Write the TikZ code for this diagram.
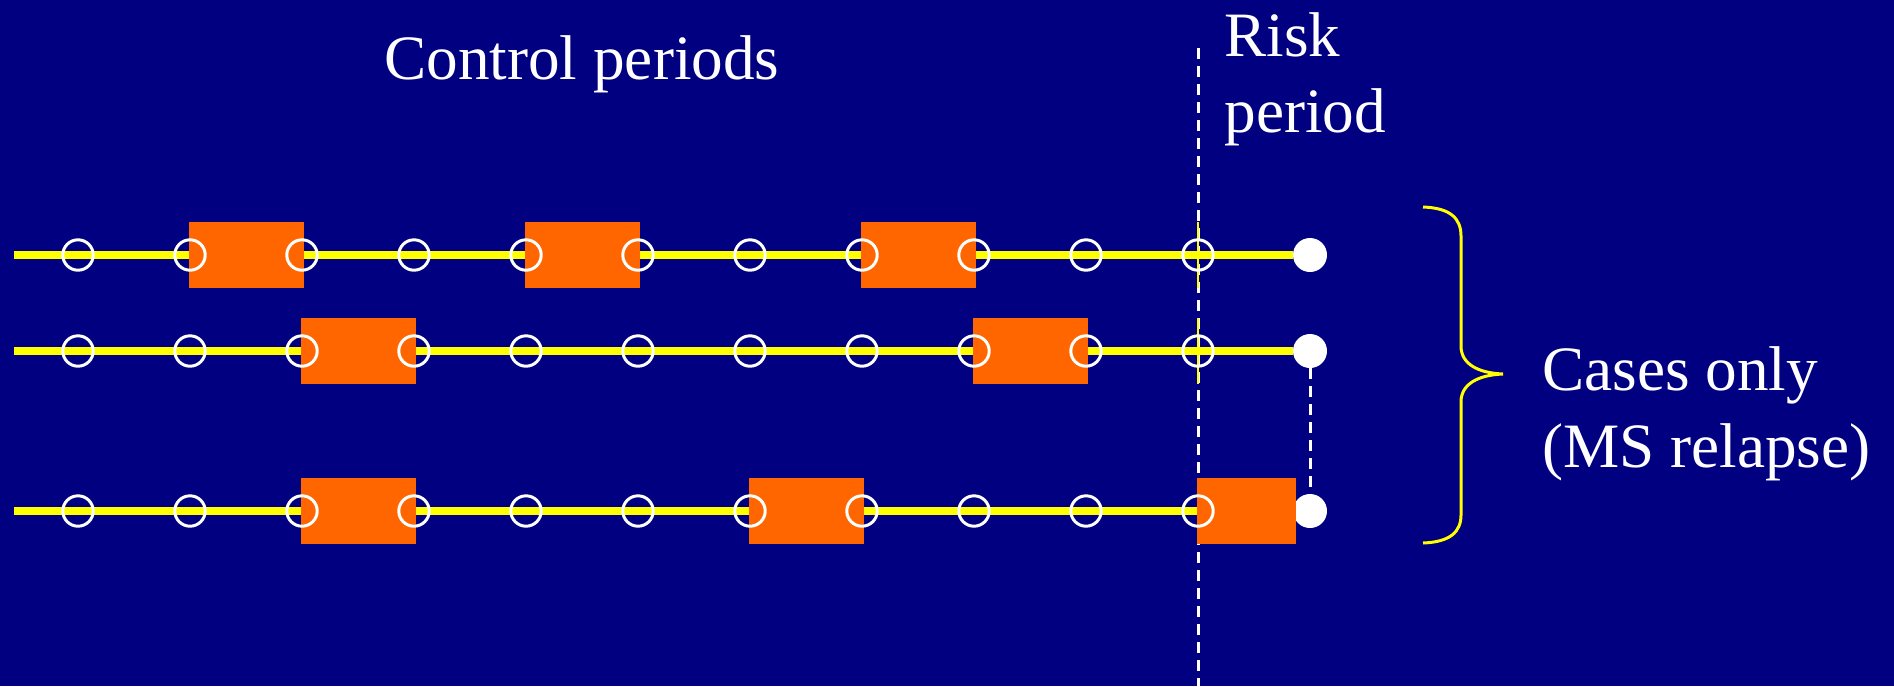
\documentclass[tikz,border=0pt]{standalone}
\usepackage{fontspec}
\setmainfont{Liberation Serif}
\definecolor{bg}{HTML}{000080}
\definecolor{orng}{HTML}{FF6600}
\definecolor{yl}{HTML}{FFFF00}
\begin{document}
\begin{tikzpicture}[x=0.5pt,y=-0.5pt,
 hc/.style={circle,draw=white,line width=1.5pt,minimum size=15.2pt,inner sep=0pt},
 fc/.style={circle,fill=white,minimum size=17pt,inner sep=0pt},
 pbox/.style={rectangle,fill=orng,minimum width=57.5pt,minimum height=33pt,inner sep=0pt},
 yline/.style={draw=yl,line width=4pt},
 ytick/.style={draw=yl,line width=1pt},
 wdash/.style={draw=white,line width=1.5pt,dash pattern=on 5.5pt off 3.5pt},
 ybrace/.style={draw=yl,line width=1.5pt},
 lbl/.style={text=white,font=\fontsize{31.6}{37}\selectfont,inner sep=0pt}
]
\fill[bg] (0,0) rectangle (1894,686);
\useasboundingbox (0,0) rectangle (1894,686);

% risk period dashed divider
\coordinate (dtop) at (1198,48);
\coordinate (dbot) at (1198,686);
\draw[wdash] (dtop) -- (dbot);

% end (case) points
\node[fc] (e1) at (1310,255) {};
\node[fc] (e2) at (1310,351) {};
\node[fc] (e3) at (1310,511) {};

% time lines
\coordinate (s1) at (14,255);
\coordinate (s2) at (14,351);
\coordinate (s3) at (14,511);
\draw[yline] (s1) -- (e1);
\draw[yline] (s2) -- (e2);
\draw[yline] (s3) -- (e3);

% exposure boxes
\node[pbox] (b11) at (246.5,255) {};
\node[pbox] (b12) at (582.5,255) {};
\node[pbox] (b13) at (918.5,255) {};
\node[pbox] (b21) at (358.5,351) {};
\node[pbox] (b22) at (1030.5,351) {};
\node[pbox] (b31) at (358.5,511) {};
\node[pbox] (b32) at (806.5,511) {};
\node[pbox,minimum width=49.5pt] (b33) at (1246.5,511) {};

% dashed link between case end points
\draw[wdash,shorten >=3.5pt] (e2) -- (e3);

% yellow ticks on the divider
\coordinate (t1a) at (1198,222); \coordinate (t1b) at (1198,288);
\coordinate (t2a) at (1198,318); \coordinate (t2b) at (1198,384);
\draw[ytick] (t1a) -- (t1b);
\draw[ytick] (t2a) -- (t2b);

% sampling points
\foreach \r/\y in {1/255,2/351,3/511}{
  \foreach \i in {0,...,10}{
    \node[hc] (c\r-\i) at (78+112*\i,\y) {};
  }
}

% brace
\draw[ybrace] (1423,207) .. controls (1450,208) and (1461,218) .. (1461,236)
  -- (1461,346) .. controls (1461,364) and (1478,373) .. (1503,374)
  .. controls (1478,375) and (1461,384) .. (1461,402)
  -- (1461,515) .. controls (1461,532) and (1450,542) .. (1423,543);

% labels
\node[lbl,anchor=base west] (ctrl) at (384,79) {Control periods};
\node[lbl,anchor=base west] (risk1) at (1224,56) {Risk};
\node[lbl,anchor=base west] (risk2) at (1224,132) {period};
\node[lbl,anchor=base west] (case1) at (1542,390) {Cases only};
\node[lbl,anchor=base west] (case2) at (1542,467) {(MS relapse)};
\end{tikzpicture}
\end{document}
